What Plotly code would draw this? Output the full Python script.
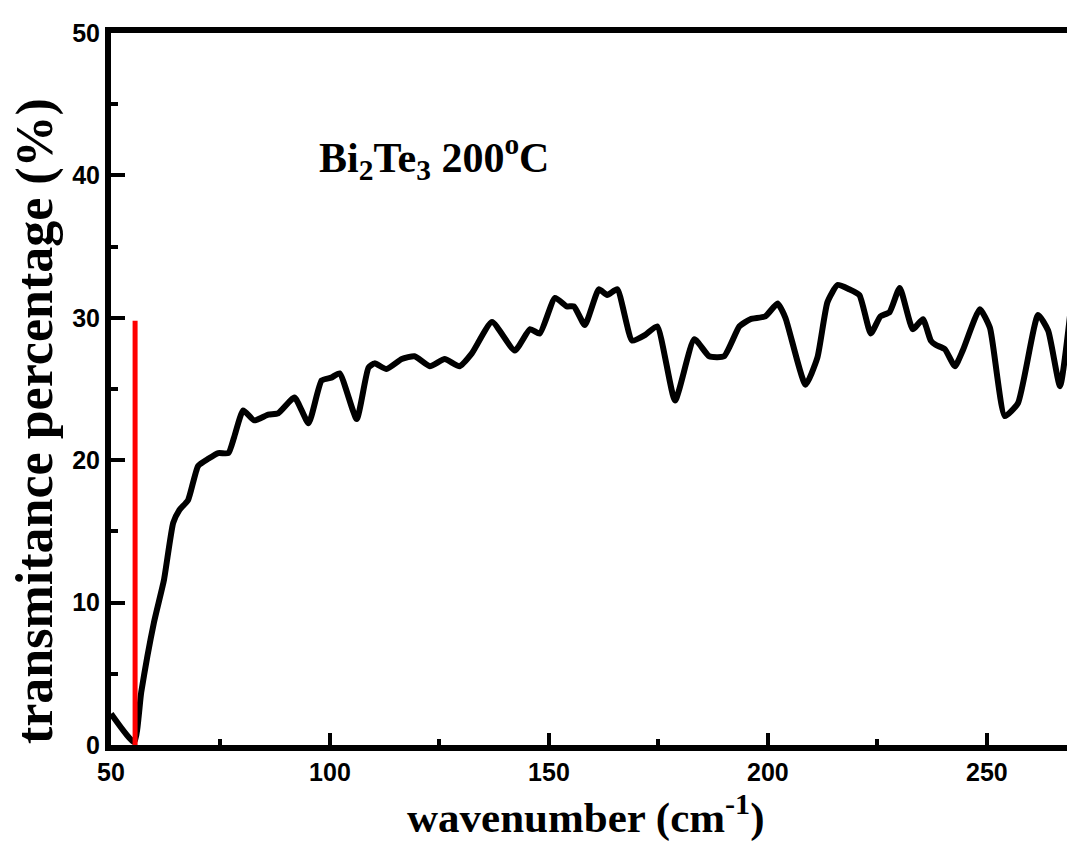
import plotly.graph_objects as go

# transmittance spectrum
WAVENUMBER = [50, 55.3, 56.9, 59.8, 62.1, 64.2, 65.6, 67.6, 69.9, 72.2, 74.5, 76.8,
              78.1, 80.2, 82.7, 85.9, 88.2, 91.9, 95.1, 98.1, 100.3, 102.2, 106.1,
              108.8, 110.2, 112.9, 116.4, 119.3, 122.8, 126.2, 129.6, 132.4, 137.0,
              142.2, 145.7, 147.9, 151.4, 154.1, 155.7, 158.2, 161.4, 163.3, 165.6,
              169.0, 172.0, 174.7, 178.8, 183.2, 186.6, 190.0, 193.5, 196.0, 199.4,
              202.2, 204.0, 208.6, 211.3, 213.6, 215.9, 218.6, 220.9, 223.5, 225.7,
              227.8, 230.1, 233.1, 235.4, 237.2, 238.3, 240.4, 242.7, 244.5, 248.4,
              250.7, 254.1, 257.1, 261.7, 264.0, 266.7, 269.0]
TRANSMITTANCE = [2.2, 0.2, 3.7, 8.6, 11.6, 15.6, 16.5, 17.2, 19.6, 20.1, 20.5, 20.5,
                 21.6, 23.5, 22.8, 23.2, 23.3, 24.4, 22.6, 25.6, 25.8, 26.1, 22.9,
                 26.5, 26.8, 26.4, 27.1, 27.3, 26.6, 27.1, 26.6, 27.5, 29.7,
                 27.7, 29.2, 28.9, 31.4, 30.8, 30.8, 29.5, 32.0, 31.6, 32.0,
                 28.4, 28.8, 29.4, 24.2, 28.5, 27.3, 27.3, 29.4, 29.9, 30.1,
                 31.0, 30.0, 25.3, 27.2, 31.1, 32.3, 32.0, 31.6, 28.9, 30.1,
                 30.4, 32.1, 29.2, 29.9, 28.4, 28.1, 27.8, 26.6, 27.7, 30.6,
                 29.3, 23.1, 24.0, 30.2, 29.1, 25.2, 30.2]

# red marker line
MARKER_X = [55.5, 55.5]
MARKER_Y = [0, 29.8]

X_TICKS = [50, 100, 150, 200, 250]
Y_TICKS = [0, 10, 20, 30, 40, 50]

fig = go.Figure()
fig.add_trace(go.Scatter(
    x=WAVENUMBER, y=TRANSMITTANCE, mode="lines",
    line=dict(color="black", width=6, shape="spline", smoothing=0.5),
    showlegend=False,
))
fig.add_trace(go.Scatter(
    x=MARKER_X, y=MARKER_Y, mode="lines",
    line=dict(color="#ff0000", width=5),
    showlegend=False,
))

serif_bold = dict(family="Liberation Serif", color="black", weight="bold")

fig.add_annotation(
    x=97, y=41.3, xref="x", yref="y", xanchor="left", yanchor="middle",
    text="Bi<sub>2</sub>Te<sub>3</sub> 200<sup>o</sup>C",
    showarrow=False,
    font=dict(size=42, **serif_bold),
)
# axis titles as annotations so they sit where the reference has them
fig.add_annotation(
    x=-0.0795, y=0.455, xref="paper", yref="paper",
    xanchor="center", yanchor="middle", textangle=-90,
    text="transmitance percentage (%)", showarrow=False,
    font=dict(size=52, **serif_bold),
)
fig.add_annotation(
    x=0.496, y=-0.097, xref="paper", yref="paper",
    xanchor="center", yanchor="middle",
    text="wavenumber (cm<sup>-1</sup>)", showarrow=False,
    font=dict(size=43, **serif_bold),
)

tick_font = dict(family="Liberation Sans", size=25, color="black", weight="bold")

fig.update_layout(
    width=1067, height=848,
    margin=dict(l=111, r=0, t=33, b=103),
    plot_bgcolor="white", paper_bgcolor="white",
    xaxis=dict(
        range=[50, 268.3], tickvals=X_TICKS, automargin=False,
        showgrid=False, zeroline=False,
        showline=True, linecolor="black", linewidth=6, mirror=True,
        ticks="inside", ticklen=12, tickwidth=4, tickcolor="black",
        minor=dict(dtick=25, tick0=50, ticks="inside", ticklen=6, tickwidth=4, tickcolor="black"),
        tickfont=tick_font,
    ),
    yaxis=dict(
        range=[0, 50], tickvals=Y_TICKS, automargin=False,
        showgrid=False, zeroline=False,
        showline=True, linecolor="black", linewidth=6,
        ticks="inside", ticklen=14, tickwidth=4, tickcolor="black",
        minor=dict(dtick=5, tick0=0, ticks="inside", ticklen=7, tickwidth=4, tickcolor="black"),
        tickfont=tick_font,
    ),
)

# drop the default body margin so the figure fills the window from its corner
fig.write_html("out.html", config={"displayModeBar": False},
               post_script="document.body.style.margin = '0';")
